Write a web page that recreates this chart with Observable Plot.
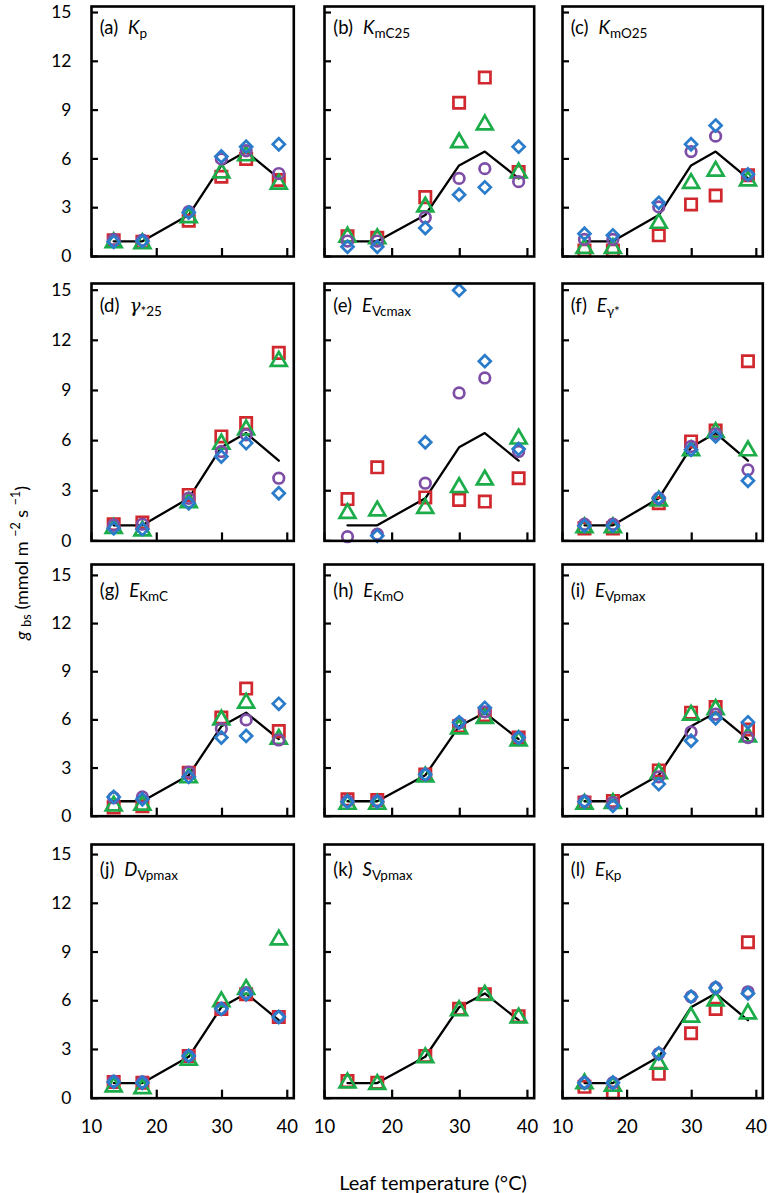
<!DOCTYPE html>
<html><head><meta charset="utf-8">
<script src="https://cdn.jsdelivr.net/npm/d3@7"></script>
<script src="https://cdn.jsdelivr.net/npm/@observablehq/plot@0.6"></script>
<style>
body{margin:0;background:#fff;}
#wrap{position:relative;width:771px;height:1193px;font-family:Lato,"Open Sans",sans-serif;color:#000;overflow:hidden;}
.panel{position:absolute;}
.lab{position:absolute;font-size:18.5px;line-height:1;white-space:nowrap;}
.lab .v{font-style:italic;margin-left:10px;}
.lab sub{font-size:13.5px;vertical-align:-4px;line-height:0;font-style:normal;}
.greek{font-family:"DejaVu Serif",serif;font-style:italic;}
#ytitle{position:absolute;left:21px;top:563px;transform:translate(-50%,-50%) rotate(-90deg);white-space:nowrap;font-size:18px;}
#ytitle sub{font-size:12.5px;vertical-align:-3px;line-height:0;}
#ytitle sup{font-size:12.5px;vertical-align:8px;line-height:0;}
#xtitle{position:absolute;left:433px;top:1182px;transform:translate(-50%,-50%);white-space:nowrap;font-size:20px;}
</style></head><body><div id="wrap"></div>
<script>
// ---- data ----
const temps = [13.4, 17.8, 24.9, 29.9, 33.7, 38.7];           // leaf temperature (°C)
const measured = [0.93, 0.93, 2.55, 5.6, 6.45, 4.8];          // black line (measured gbs)
const panelLetters = ["a","b","c","d","e","f","g","h","i","j","k","l"];
const panelParams = [
  ['<span class="v">K</span><sub>p</sub>'],
  ['<span class="v">K</span><sub>mC25</sub>'],
  ['<span class="v">K</span><sub>mO25</sub>'],
  ['<span class="v greek">γ</span><sub>*25</sub>'],
  ['<span class="v">E</span><sub>Vcmax</sub>'],
  ['<span class="v">E</span><sub>γ*</sub>'],
  ['<span class="v">E</span><sub>KmC</sub>'],
  ['<span class="v">E</span><sub>KmO</sub>'],
  ['<span class="v">E</span><sub>Vpmax</sub>'],
  ['<span class="v">D</span><sub>Vpmax</sub>'],
  ['<span class="v">S</span><sub>Vpmax</sub>'],
  ['<span class="v">E</span><sub>Kp</sub>']
];
// four series per panel (red squares, green triangles, purple circles, blue diamonds)
const redSquare = [
  [1.0, 0.9, 2.2, 4.9, 6.0, 4.7],
  [1.25, 1.15, 3.65, 9.45, 11.0, 5.2],
  [0.37, 0.37, 1.3, 3.2, 3.75, 5.0],
  [1.0, 1.1, 2.75, 6.25, 7.05, 11.25],
  [2.5, 4.4, 2.6, 2.45, 2.35, 3.75],
  [0.75, 0.75, 2.25, 5.95, 6.6, 10.75],
  [0.55, 0.62, 2.7, 6.15, 7.95, 5.3],
  [1.05, 1.0, 2.6, 5.6, 6.3, 4.9],
  [0.85, 0.95, 2.85, 6.45, 6.8, 5.4],
  [1.0, 0.95, 2.6, 5.5, 6.4, 5.0],
  [1.05, 0.95, 2.6, 5.5, 6.4, 5.05],
  [0.7, 0.35, 1.5, 4.0, 5.5, 9.6]
];
const greenTriangle = [
  [0.85, 0.8, 2.4, 5.15, 6.2, 4.45],
  [1.2, 1.1, 3.05, 7.0, 8.1, 5.15],
  [0.5, 0.5, 2.05, 4.5, 5.25, 4.65],
  [0.75, 0.6, 2.3, 5.8, 6.65, 10.75],
  [1.65, 1.8, 1.95, 3.2, 3.65, 6.1],
  [0.8, 0.8, 2.4, 5.4, 6.5, 5.4],
  [0.65, 0.7, 2.4, 6.0, 7.05, 4.8],
  [0.75, 0.75, 2.45, 5.45, 6.1, 4.7],
  [0.75, 0.8, 2.65, 6.3, 6.65, 4.95],
  [0.7, 0.6, 2.35, 5.95, 6.7, 9.75],
  [0.95, 0.85, 2.5, 5.4, 6.35, 4.95],
  [0.9, 0.75, 2.1, 5.0, 6.0, 5.2]
];
const purpleCircle = [
  [1.05, 1.0, 2.75, 6.0, 6.5, 5.1],
  [0.95, 0.95, 2.4, 4.8, 5.4, 4.6],
  [1.05, 1.05, 3.05, 6.45, 7.4, 5.0],
  [0.95, 1.0, 2.55, 5.35, 6.35, 3.75],
  [0.25, 0.4, 3.45, 8.85, 9.75, 5.35],
  [1.0, 1.0, 2.55, 5.65, 6.4, 4.25],
  [1.15, 1.2, 2.75, 5.45, 6.0, 4.75],
  [0.95, 0.95, 2.6, 5.8, 6.5, 4.9],
  [0.95, 0.85, 2.45, 5.25, 6.35, 4.9],
  [1.05, 1.0, 2.6, 5.5, 6.5, 5.0],
  [null, null, null, null, null, null],
  [0.95, 0.95, 2.75, 6.25, 6.8, 6.55]
];
const blueDiamond = [
  [0.9, 0.95, 2.7, 6.15, 6.75, 6.9],
  [0.6, 0.6, 1.75, 3.8, 4.25, 6.75],
  [1.4, 1.3, 3.3, 6.9, 8.05, 5.05],
  [0.75, 0.7, 2.25, 5.05, 5.85, 2.85],
  [null, 0.3, 5.9, 15.0, 10.75, 5.5],
  [0.9, 0.9, 2.55, 5.45, 6.25, 3.6],
  [1.2, 1.05, 2.45, 4.9, 5.0, 7.0],
  [0.9, 0.9, 2.6, 5.85, 6.75, 4.9],
  [0.9, 0.65, 2.0, 4.7, 6.1, 5.85],
  [1.0, 0.95, 2.6, 5.5, 6.4, 5.0],
  [null, null, null, null, null, null],
  [0.95, 0.95, 2.75, 6.25, 6.8, 6.45]
];
const xTicks = [10, 20, 30, 40];
const yTicks = [0, 3, 6, 9, 12, 15];

// ---- layout ----
const cols = [{x0: 90.7, x1: 293}, {x0: 324.3, x1: 534}, {x0: 561.7, x1: 762}];
const rows = [{y0: 6, y1: 256, top: 15.37}, {y0: 283.3, y1: 540.7, top: 15.4},
              {y0: 564, y1: 815.7, top: 15.68}, {y0: 844, y1: 1097.7, top: 15.62}];
const RED = "#d0282e", GREEN = "#1cad4a", PURPLE = "#7e4ea6", BLUE = "#2a7ccb";

const wrap = document.getElementById("wrap");
const mL = 50, mR = 12, mT = 12, mB = 45;
const SW = 2.7;

panelLetters.forEach((letter, i) => {
  const col = i % 3, row = Math.floor(i / 3);
  const C = cols[col], R = rows[row];
  const W = C.x1 - C.x0, H = R.y1 - R.y0;
  const series = arr => temps.map((t, k) => ({t, v: arr[i][k]})).filter(d => d.v != null);
  const lineData = temps.map((t, k) => ({t, v: measured[k]}));
  const marks = [
    Plot.line(lineData, {x: "t", y: "v", stroke: "black", strokeWidth: 2.3}),
    Plot.dot(series(redSquare), {x: "t", y: "v", symbol: "square", r: 6.4, stroke: RED, strokeWidth: SW, fill: "none"}),
    Plot.dot(series(greenTriangle), {x: "t", y: "v", symbol: "triangle", r: 5.9, stroke: GREEN, strokeWidth: SW, fill: "none"}),
    Plot.dot(series(purpleCircle), {x: "t", y: "v", symbol: "circle", r: 5.3, stroke: PURPLE, strokeWidth: SW, fill: "none"}),
    Plot.dot(series(blueDiamond), {x: "t", y: "v", symbol: "diamond2", r: 5.4, stroke: BLUE, strokeWidth: SW, fill: "none"}),
    Plot.tickY(yTicks, {y: d => d, insetRight: W - 7, stroke: "black", strokeWidth: 2.2}),
    Plot.tickX(xTicks, {x: d => d, insetTop: H - 8, stroke: "black", strokeWidth: 2.2}),
    Plot.frame({stroke: "black", strokeWidth: 2.6})
  ];
  const xOpt = {domain: [10, 41]};
  const yOpt = {domain: [0, R.top]};
  if (col === 0) marks.push(Plot.axisY(yTicks, {tickSize: 0, tickPadding: 20, label: null, fontSize: 17.5}));
  else yOpt.axis = null;
  if (row === 3) marks.push(Plot.axisX(xTicks, {tickSize: 0, tickPadding: 22, label: null, fontSize: 18.5}));
  else xOpt.axis = null;
  const chart = Plot.plot({
    width: W + mL + mR, height: H + mT + mB,
    marginLeft: mL, marginRight: mR, marginTop: mT, marginBottom: mB,
    x: xOpt, y: yOpt,
    style: {background: "transparent", fontFamily: "Lato, 'Open Sans', sans-serif", fontSize: "18px", color: "black", overflow: "visible"},
    marks
  });
  chart.classList.add("panel");
  chart.style.left = (C.x0 - mL) + "px";
  chart.style.top = (R.y0 - mT) + "px";
  chart.style.maxWidth = "none";
  wrap.appendChild(chart);

  const lab = document.createElement("div");
  lab.className = "lab";
  lab.innerHTML = `(${letter})` + panelParams[i][0];
  const y15 = R.y1 - (R.y1 - R.y0) * 15 / R.top;
  lab.style.left = (C.x0 + 9) + "px";
  lab.style.top = (y15 + 15.5 - 9.5) + "px";
  wrap.appendChild(lab);
});

const yt = document.createElement("div");
yt.id = "ytitle";
yt.innerHTML = '<i>g</i> <sub>bs</sub> (mmol m <sup>−2</sup> s <sup>−1</sup>)';
wrap.appendChild(yt);
const xt = document.createElement("div");
xt.id = "xtitle";
xt.textContent = "Leaf temperature (°C)";
wrap.appendChild(xt);
</script></body></html>
